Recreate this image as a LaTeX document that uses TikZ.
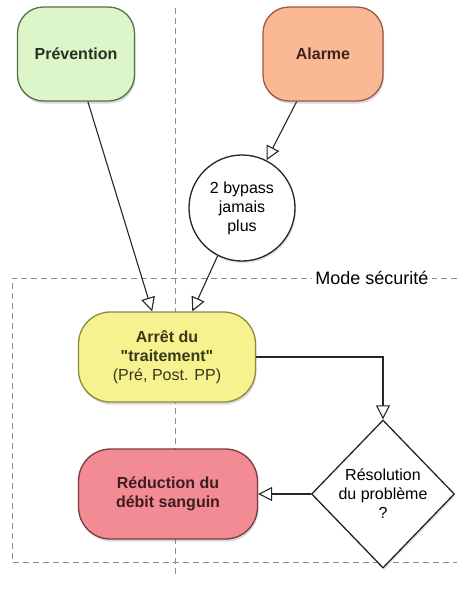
\documentclass[tikz,border=0pt]{standalone}
\usepackage{fontspec}
\setmainfont{Liberation Sans}[Ligatures=TeXOff]
\usetikzlibrary{arrows.meta,shapes.geometric,shadows}
\definecolor{prevfill}{HTML}{DDF6C9}
\definecolor{prevline}{HTML}{556F4A}
\definecolor{alarmfill}{HTML}{FAB894}
\definecolor{alarmline}{HTML}{9A5A48}
\definecolor{stopfill}{HTML}{F6F290}
\definecolor{stopline}{HTML}{8E8A3C}
\definecolor{flowfill}{HTML}{F28B94}
\definecolor{flowline}{HTML}{7C3A40}
\definecolor{muted}{HTML}{8C8C8C}
\tikzset{x=1pt,y=-1pt,
  every node/.style={font=\fontsize{16}{19}\selectfont,align=center},
  box/.style={rectangle,rounded corners=26pt,line width=1.3pt,
    drop shadow={opacity=.3,shadow xshift=1pt,shadow yshift=-2.5pt}},
  boxtitle/.style={font=\fontsize{16}{19}\selectfont\bfseries},
  flow/.style={draw=black!85,line width=1.1pt,
    -{Triangle[length=14pt,width=14pt,fill=white,line width=1.1pt]}},
  guide/.style={draw=muted,dash pattern=on 6pt off 4pt,line width=.8pt},
  question/.style={diamond,draw=black!85,fill=white,line width=1.3pt,
    minimum width=143pt,minimum height=148pt,inner sep=0pt,
    drop shadow={opacity=.25,shadow xshift=1pt,shadow yshift=-2pt}}}

\begin{document}
\begin{tikzpicture}
\path[use as bounding box] (0,0) rectangle (457,592);

\draw[guide] (175,8)--(175,574);
\draw[guide] (457,278)--(12,278)--(12,562)--(457,562);
\node[fill=white,inner sep=3pt,font=\fontsize{18}{21}\selectfont] (mode) at (372,278) {Mode sécurité};

\node[box,boxtitle,draw=prevline,fill=prevfill,minimum width=117pt,minimum height=94pt,
  text=prevline!45!black] (prev) at (76,54) {Prévention};
\node[box,boxtitle,draw=alarmline,fill=alarmfill,minimum width=120pt,minimum height=94pt,
  text=alarmline!40!black] (alarm) at (323,54) {Alarme};
\node[circle,draw=black!85,fill=white,line width=1.3pt,minimum size=106pt,inner sep=0pt,
  drop shadow={opacity=.25,shadow xshift=1pt,shadow yshift=-2pt}] (bypass) at (242,208) {2 bypass\\jamais\\plus};
\node[box,draw=stopline,fill=stopfill,minimum width=177pt,minimum height=90pt,rounded corners=32pt,
  text=stopline!40!black] (arret) at (167,357) {\textbf{Arrêt du}\\\textbf{"traitement"}\\(Pré, Post. PP)};
\node[box,boxtitle,draw=flowline,fill=flowfill,minimum width=179pt,minimum height=90pt,rounded corners=32pt,
  text=flowline!50!black] (reduc) at (168,494) {Réduction du\\débit sanguin};
\node[question] (resol) at (383,494) {Résolution\\du problème\\?};

\draw[flow] (prev.-76)--(arret.108);
\draw[flow] (alarm.-119)--(bypass);
\draw[flow] (bypass.-117)--(arret.61);
\draw[flow] (arret.east)-|(resol.north);
\draw[flow] (resol.west)--(reduc.east);
\end{tikzpicture}
\end{document}
